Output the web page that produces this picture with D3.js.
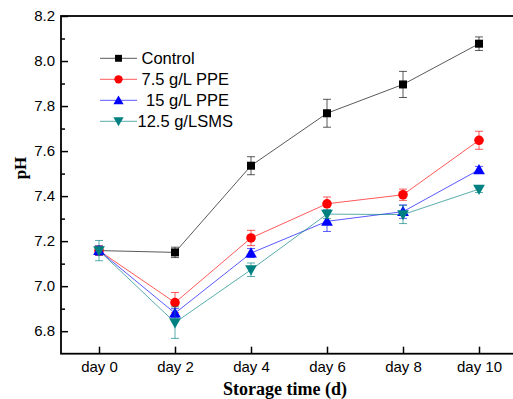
<!DOCTYPE html>
<html><head><meta charset="utf-8">
<script src="https://cdn.jsdelivr.net/npm/d3@7"></script>
<style>body{margin:0;background:#fff}svg{display:block}</style>
</head><body><svg id="c" width="513" height="399"></svg>
<script>
const days = [0, 2, 4, 6, 8, 10];
const dayLabels = ["day 0", "day 2", "day 4", "day 6", "day 8", "day 10"];
const seriesNames = ["Control", "7.5 g/L PPE", " 15 g/L PPE", "12.5 g/LSMS"];
const controlVals = [7.158, 7.150, 7.535, 7.768, 7.896, 8.077];
const controlErr  = [0.02, 0.023, 0.04, 0.062, 0.058, 0.03];
const ppe75Vals   = [7.158, 6.927, 7.214, 7.366, 7.406, 7.648];
const ppe75Err    = [0.02, 0.045, 0.034, 0.03, 0.025, 0.04];
const ppe15Vals   = [7.158, 6.880, 7.147, 7.288, 7.331, 7.517];
const ppe15Err    = [0.02, 0.02, 0.02, 0.045, 0.03, 0.015];
const smsVals     = [7.158, 6.838, 7.073, 7.320, 7.318, 7.431];
const smsErr      = [0.045, 0.07, 0.03, 0.02, 0.04, 0.015];
const yMajor = [6.8, 7.0, 7.2, 7.4, 7.6, 7.8, 8.0, 8.2];
const yMinor = [6.9, 7.1, 7.3, 7.5, 7.7, 7.9, 8.1];

const colors = ["#000000", "#ff0000", "#0000ff", "#008080"];
const shapes = [d3.symbolSquare, d3.symbolCircle, d3.symbolTriangle, "down"];
const series = [
  {name: seriesNames[0], vals: controlVals, err: controlErr},
  {name: seriesNames[1], vals: ppe75Vals, err: ppe75Err},
  {name: seriesNames[2], vals: ppe15Vals, err: ppe15Err},
  {name: seriesNames[3], vals: smsVals, err: smsErr}
];

const svg = d3.select("#c");
const L = 61, R = 517, T = 16, B = 353.7;
const x = d3.scaleLinear().domain([-1, 11]).range([L, R]);
const y = d3.scaleLinear().domain([6.7, 8.2]).range([B, T]);
const tickFont = "'Liberation Sans', Arial, sans-serif";

// frame
svg.append("rect").attr("x", L).attr("y", T).attr("width", R - L).attr("height", B - T)
  .attr("fill", "none").attr("stroke", "#000").attr("stroke-width", 1.8);

// y axis
const yAx = svg.append("g").attr("transform", `translate(${L},0)`)
  .call(d3.axisLeft(y).tickValues(yMajor).tickFormat(d3.format(".1f")).tickSizeInner(-7).tickSizeOuter(0).tickPadding(7));
yAx.select(".domain").remove();
yAx.selectAll(".tick line").attr("stroke-width", 1.5);
yAx.selectAll("text").attr("font-family", tickFont).attr("font-size", 15).attr("fill", "#000").attr("x", -6);
svg.append("g").attr("transform", `translate(${L},0)`)
  .call(d3.axisLeft(y).tickValues(yMinor).tickFormat("").tickSizeInner(-4).tickSizeOuter(0))
  .call(g => g.select(".domain").remove())
  .selectAll("line").attr("stroke-width", 1.5);

// x axis
const xAx = svg.append("g").attr("transform", `translate(0,${B})`)
  .call(d3.axisBottom(x).tickValues(days).tickFormat((d, i) => dayLabels[i]).tickSizeInner(-7).tickSizeOuter(0));
xAx.select(".domain").remove();
xAx.selectAll(".tick line").attr("stroke-width", 1.5);
xAx.selectAll("text").attr("font-family", tickFont).attr("font-size", 15).attr("fill", "#000")
  .attr("y", 0).attr("dy", null).attr("dominant-baseline", null).attr("transform", "translate(0,18.5)");

// axis titles
svg.append("text").attr("x", 285).attr("y", 395).attr("text-anchor", "middle")
  .attr("font-family", "'Liberation Serif', 'Times New Roman', serif").attr("font-weight", "bold")
  .attr("font-size", 18).text("Storage time (d)");
svg.append("text").attr("transform", "translate(26,168) rotate(-90)").attr("text-anchor", "middle")
  .attr("font-family", "'Liberation Serif', 'Times New Roman', serif").attr("font-weight", "bold")
  .attr("font-size", 17).text("pH");

function sym(i, size) {
  if (shapes[i] === "down") return d3.symbol().type(d3.symbolTriangle).size(size)();
  return d3.symbol().type(shapes[i]).size(size)();
}
const sizes = [64, 72, 60, 60];

const plot = svg.append("g");
series.forEach((s, i) => {
  const g = plot.append("g");
  const pts = days.map((d, j) => ({d, v: s.vals[j], e: s.err[j]}));
  g.append("path").datum(pts)
    .attr("d", d3.line().x(p => x(p.d)).y(p => y(p.v)))
    .attr("fill", "none").attr("stroke", colors[i]).attr("stroke-width", 1).attr("stroke-opacity", 0.65);
  const eb = g.selectAll(".eb").data(pts).enter().append("g").attr("stroke", colors[i])
    .attr("stroke-width", 1).attr("stroke-opacity", 0.65);
  eb.append("line").attr("x1", p => x(p.d)).attr("x2", p => x(p.d))
    .attr("y1", p => y(p.v - p.e)).attr("y2", p => y(p.v + p.e));
  eb.append("line").attr("x1", p => x(p.d) - 4).attr("x2", p => x(p.d) + 4)
    .attr("y1", p => y(p.v - p.e)).attr("y2", p => y(p.v - p.e));
  eb.append("line").attr("x1", p => x(p.d) - 4).attr("x2", p => x(p.d) + 4)
    .attr("y1", p => y(p.v + p.e)).attr("y2", p => y(p.v + p.e));
  g.selectAll(".m").data(pts).enter().append("path")
    .attr("d", sym(i, sizes[i]))
    .attr("transform", p => `translate(${x(p.d)},${y(p.v) + (i === 2 ? 1 : i === 3 ? -1 : 0)})` + (shapes[i] === "down" ? " rotate(180)" : ""))
    .attr("fill", colors[i]);
});

// legend
const legY = [58.3, 79.3, 100.3, 121.3];
series.forEach((s, i) => {
  const g = svg.append("g").attr("transform", `translate(0,${legY[i]})`);
  g.append("line").attr("x1", 100).attr("x2", 137).attr("y1", 0).attr("y2", 0)
    .attr("stroke", colors[i]).attr("stroke-width", 1).attr("stroke-opacity", 0.65);
  g.append("path").attr("d", sym(i, sizes[i] * 0.75))
    .attr("transform", `translate(118.5,${i === 2 ? 1 : i === 3 ? -1 : 0})` + (shapes[i] === "down" ? " rotate(180)" : ""))
    .attr("fill", colors[i]);
  g.append("text").attr("x", i === 3 ? 137.5 : 141.5).attr("y", 6)
    .attr("font-family", tickFont).attr("font-size", 16.5).attr("xml:space", "preserve")
    .style("white-space", "pre").text(s.name);
});
</script></body></html>
